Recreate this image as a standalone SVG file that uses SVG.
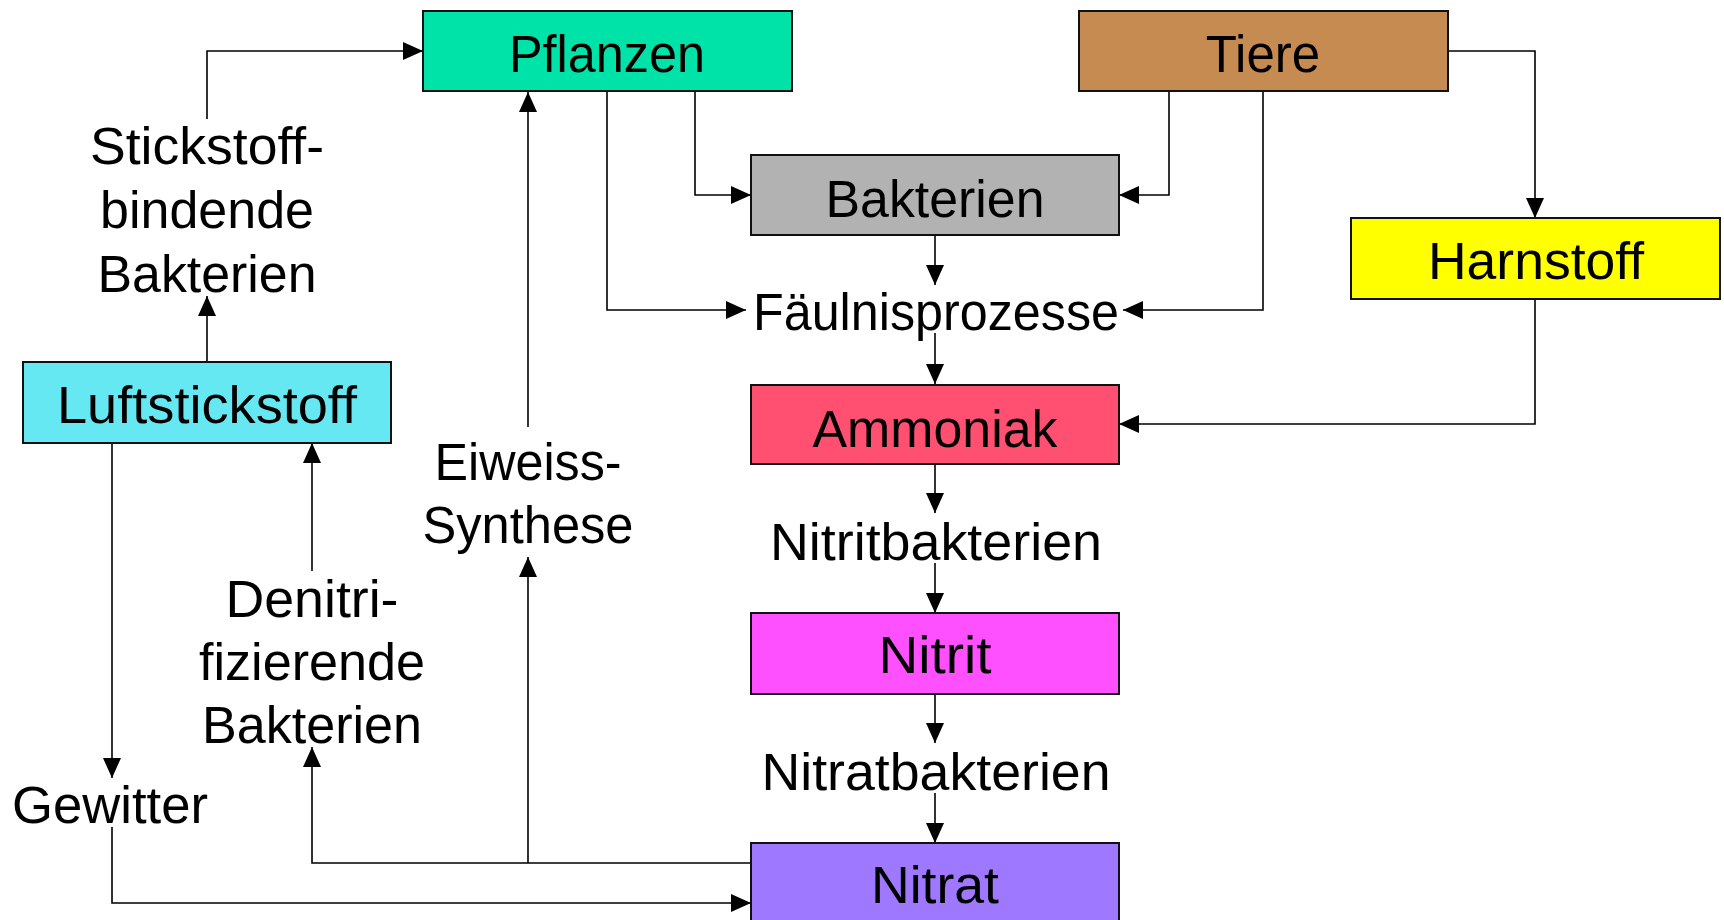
<svg xmlns="http://www.w3.org/2000/svg" width="1724" height="920" viewBox="0 0 1724 920">
<style>
.box{stroke:#111;stroke-width:2}
.t{font-family:"Liberation Sans",Arial,sans-serif;font-size:51px;fill:#000;text-anchor:middle}
.c{fill:none;stroke:#000;stroke-width:1.6}
</style>
<defs>
<marker id="a" markerUnits="userSpaceOnUse" markerWidth="20" markerHeight="18" viewBox="0 0 20 18" refX="20" refY="9" orient="auto">
<path d="M0,0 L20,9 L0,18 z" fill="#000"/>
</marker>
</defs>
<rect width="1724" height="920" fill="#fff"/>
<g id="connectors">
<path class="c" marker-end="url(#a)" d="M207,119 V51 H423"/>
<path class="c" marker-end="url(#a)" d="M207,362 V296"/>
<path class="c" marker-end="url(#a)" d="M528,427 V92"/>
<path class="c" marker-end="url(#a)" d="M695,91 V195 H751"/>
<path class="c" marker-end="url(#a)" d="M607,91 V310 H746"/>
<path class="c" marker-end="url(#a)" d="M1169,88 V195 H1119"/>
<path class="c" marker-end="url(#a)" d="M1263,91 V310 H1123"/>
<path class="c" marker-end="url(#a)" d="M1448,51 H1535 V218"/>
<path class="c" marker-end="url(#a)" d="M1535,299 V424 H1119"/>
<path class="c" marker-end="url(#a)" d="M935,235 V285"/>
<path class="c" marker-end="url(#a)" d="M935,333 V384"/>
<path class="c" marker-end="url(#a)" d="M935,464 V513"/>
<path class="c" marker-end="url(#a)" d="M935,563 V613"/>
<path class="c" marker-end="url(#a)" d="M935,694 V743"/>
<path class="c" marker-end="url(#a)" d="M935,793 V843"/>
<path class="c" marker-end="url(#a)" d="M112,443 V778"/>
<path class="c" marker-end="url(#a)" d="M112,827 V903 H751"/>
<path class="c" marker-end="url(#a)" d="M751,863 H312 V747"/>
<path class="c" marker-end="url(#a)" d="M528,863 V557"/>
<path class="c" marker-end="url(#a)" d="M312,571 V443"/>
</g>
<g id="pflanzen"><rect class="box" x="423" y="11" width="369" height="80" fill="#00E3A8"/><text class="t" x="607" y="72" textLength="196" lengthAdjust="spacingAndGlyphs">Pflanzen</text></g>
<g id="tiere"><rect class="box" x="1079" y="11" width="369" height="80" fill="#C68B50"/><text class="t" x="1263" y="72">Tiere</text></g>
<g id="bakterien"><rect class="box" x="751" y="155" width="368" height="80" fill="#B2B2B2"/><text class="t" x="935" y="217" textLength="219" lengthAdjust="spacingAndGlyphs">Bakterien</text></g>
<g id="harnstoff"><rect class="box" x="1351" y="218" width="369" height="81" fill="#FFFF00"/><text class="t" x="1536" y="279" textLength="216" lengthAdjust="spacingAndGlyphs">Harnstoff</text></g>
<g id="luftstickstoff"><rect class="box" x="23" y="362" width="368" height="81" fill="#66E8F2"/><text class="t" x="207" y="423" textLength="300" lengthAdjust="spacingAndGlyphs">Luftstickstoff</text></g>
<g id="ammoniak"><rect class="box" x="751" y="385" width="368" height="79" fill="#FF5072"/><text class="t" x="935" y="447" textLength="245" lengthAdjust="spacingAndGlyphs">Ammoniak</text></g>
<g id="nitrit"><rect class="box" x="751" y="613" width="368" height="81" fill="#FF50FF"/><text class="t" x="935" y="673" textLength="113" lengthAdjust="spacingAndGlyphs">Nitrit</text></g>
<g id="nitrat"><rect class="box" x="751" y="843" width="368" height="81" fill="#9E78FF"/><text class="t" x="935" y="903" textLength="128" lengthAdjust="spacingAndGlyphs">Nitrat</text></g>
<g id="faeulnis"><text class="t" x="936" y="330" textLength="366" lengthAdjust="spacingAndGlyphs">Fäulnisprozesse</text></g>
<g id="nitritbakterien"><text class="t" x="936" y="560" textLength="332" lengthAdjust="spacingAndGlyphs">Nitritbakterien</text></g>
<g id="nitratbakterien"><text class="t" x="936" y="790" textLength="349" lengthAdjust="spacingAndGlyphs">Nitratbakterien</text></g>
<g id="stickstoffbindende"><text class="t" x="207" y="164" textLength="234" lengthAdjust="spacingAndGlyphs">Stickstoff-</text><text class="t" x="207" y="228" textLength="214" lengthAdjust="spacingAndGlyphs">bindende</text><text class="t" x="207" y="292" textLength="219" lengthAdjust="spacingAndGlyphs">Bakterien</text></g>
<g id="eiweiss"><text class="t" x="528" y="480" textLength="187" lengthAdjust="spacingAndGlyphs">Eiweiss-</text><text class="t" x="528" y="543" textLength="211" lengthAdjust="spacingAndGlyphs">Synthese</text></g>
<g id="denitri"><text class="t" x="312" y="617" textLength="173" lengthAdjust="spacingAndGlyphs">Denitri-</text><text class="t" x="312" y="680" textLength="226" lengthAdjust="spacingAndGlyphs">fizierende</text><text class="t" x="312" y="743" textLength="220" lengthAdjust="spacingAndGlyphs">Bakterien</text></g>
<g id="gewitter"><text class="t" x="110" y="823" textLength="196" lengthAdjust="spacingAndGlyphs">Gewitter</text></g>
</svg>
